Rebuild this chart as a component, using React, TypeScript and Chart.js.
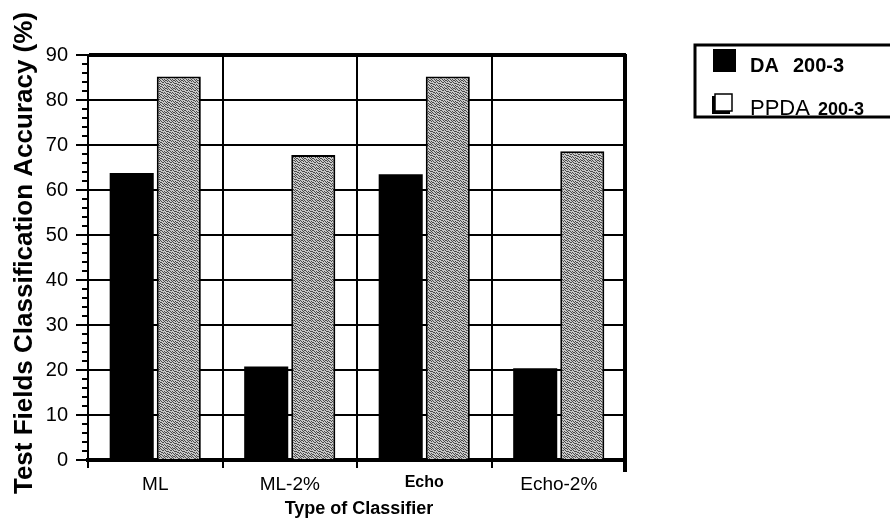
import React, { useEffect, useRef } from 'react';
import { Chart, registerables } from 'chart.js';

Chart.register(...registerables);

const categories = ['ML', 'ML-2%', 'Echo', 'Echo-2%'];
const daValues = [63.8, 20.8, 63.5, 20.4];
const ppdaValues = [85.2, 67.8, 85.2, 68.6];
const yMin = 0;
const yMax = 90;
const yStep = 10;
const yMinorStep = 2;
const seriesNames = ['DA', 'PPDA'];
const seriesSuffix = '200-3';
const yTitle = 'Test Fields Classification Accuracy (%)';
const xTitle = 'Type of Classifier';

const FONT = '"Liberation Sans", Arial, Helvetica, sans-serif';

const DITHER = [
  '10010110',
  '01001001',
  '00110100',
  '10000011',
  '01101000',
  '00010101',
  '11000010',
  '00101001',
];

function makePattern(ctx: CanvasRenderingContext2D): CanvasPattern | string {
  const c = document.createElement('canvas');
  c.width = 8;
  c.height = 8;
  const p = c.getContext('2d');
  if (!p) return '#a0a0a0';
  for (let y = 0; y < 8; y++) {
    for (let x = 0; x < 8; x++) {
      p.fillStyle = DITHER[y][x] === '1' ? '#4a4a4a' : '#c8c8c8';
      p.fillRect(x, y, 1, 1);
    }
  }
  return ctx.createPattern(c, 'repeat') || '#a0a0a0';
}

const decorPlugin = {
  id: 'decor',
  afterDraw(chart: any) {
    const ctx: CanvasRenderingContext2D = chart.ctx;
    const area = chart.chartArea;
    const yScale = chart.scales.y;
    ctx.save();
    ctx.strokeStyle = '#000';
    ctx.fillStyle = '#000';
    // minor ticks on y axis
    ctx.lineWidth = 2;
    for (let v = yMin; v <= yMax; v += yMinorStep) {
      if (v % yStep === 0) continue;
      const py = Math.round(yScale.getPixelForValue(v));
      ctx.beginPath();
      ctx.moveTo(area.left - 6, py);
      ctx.lineTo(area.left, py);
      ctx.stroke();
    }
    // right edge of plot
    ctx.lineWidth = 4;
    ctx.beginPath();
    ctx.moveTo(area.right - 1, area.top - 1);
    ctx.lineTo(area.right - 1, area.bottom + 12);
    ctx.stroke();

    // y title
    ctx.save();
    ctx.translate(32, 253);
    ctx.rotate(-Math.PI / 2);
    ctx.font = `bold 26px ${FONT}`;
    ctx.textAlign = 'center';
    ctx.textBaseline = 'alphabetic';
    ctx.fillText(yTitle, 0, 0);
    ctx.restore();

    // x title
    ctx.font = `bold 18px ${FONT}`;
    ctx.textAlign = 'center';
    ctx.textBaseline = 'alphabetic';
    ctx.fillText(xTitle, (area.left + area.right) / 2 + 2, 514);

    // legend
    const lx = area.right + 69;
    const ly = 45;
    ctx.lineWidth = 3;
    ctx.strokeRect(lx, ly, 220, 72);
    // DA swatch
    ctx.fillRect(lx + 18, ly + 4, 23, 23);
    ctx.textAlign = 'left';
    ctx.font = `bold 20px ${FONT}`;
    ctx.fillText(seriesNames[0], lx + 55, ly + 27);
    ctx.fillText(seriesSuffix, lx + 98, ly + 27);
    // PPDA swatch (3D box)
    ctx.fillRect(lx + 17, ly + 51, 18, 18);
    ctx.fillStyle = '#fff';
    ctx.fillRect(lx + 20, ly + 49, 17, 17);
    ctx.lineWidth = 1.5;
    ctx.strokeRect(lx + 20, ly + 49, 17, 17);
    ctx.fillStyle = '#000';
    ctx.font = `22px ${FONT}`;
    ctx.fillText(seriesNames[1], lx + 55, ly + 70);
    const w = ctx.measureText(seriesNames[1] + ' ').width;
    ctx.font = `bold 18px ${FONT}`;
    ctx.fillText(seriesSuffix, lx + 55 + w + 2, ly + 70);
    ctx.restore();
  },
};

export default function App() {
  const canvasRef = useRef<HTMLCanvasElement | null>(null);

  useEffect(() => {
    const canvas = canvasRef.current;
    if (!canvas) return;
    const ctx = canvas.getContext('2d');
    if (!ctx) return;
    const pattern = makePattern(ctx);
    const chart = new Chart(ctx, {
      type: 'bar',
      data: {
        labels: categories,
        datasets: [
          {
            label: seriesNames[0] + ' ' + seriesSuffix,
            data: daValues,
            backgroundColor: '#000',
            borderWidth: 0,
            categoryPercentage: 0.7,
            barPercentage: 0.936,
          },
          {
            label: seriesNames[1] + ' ' + seriesSuffix,
            data: ppdaValues,
            backgroundColor: pattern as any,
            borderColor: '#000',
            borderWidth: 2,
            categoryPercentage: 0.7,
            barPercentage: 0.936,
          },
        ],
      },
      options: {
        responsive: false,
        animation: false,
        events: [],
        layout: { padding: { left: 0, top: 55, right: 264, bottom: 0 } },
        plugins: {
          legend: { display: false },
          tooltip: { enabled: false },
          title: { display: false },
        },
        scales: {
          x: {
            afterFit: (scale: any) => {
              scale.height = 68;
            },
            grid: {
              offset: true,
              color: '#000',
              lineWidth: 2,
              tickLength: 8,
              tickWidth: 2,
              tickColor: '#000',
            },
            border: { display: true, color: '#000', width: 4 },
            ticks: {
              color: '#000',
              padding: 5,
              maxRotation: 0,
              autoSkip: false,
              font: (c: any) =>
                c.index === 2
                  ? { family: FONT, size: 16, weight: 'bold' }
                  : { family: FONT, size: 19, weight: 'normal' },
            },
          },
          y: {
            min: yMin,
            max: yMax,
            afterFit: (scale: any) => {
              scale.width = 88;
            },
            grid: {
              color: '#000',
              lineWidth: (c: any) => (c.tick && c.tick.value === yMax ? 4 : 2),
              tickLength: 12,
              tickColor: '#000',
              tickWidth: 2,
            },
            border: { display: true, color: '#000', width: 2 },
            ticks: {
              stepSize: yStep,
              color: '#000',
              padding: 8,
              font: { family: FONT, size: 20 },
            },
          },
        },
      },
      plugins: [decorPlugin],
    });
    return () => {
      chart.destroy();
    };
  }, []);

  return (
    <div style={{ position: 'fixed', left: 0, top: 0, width: 890, height: 528, background: '#fff' }}>
      <canvas ref={canvasRef} width={890} height={528} style={{ width: 890, height: 528, display: 'block' }} />
    </div>
  );
}
